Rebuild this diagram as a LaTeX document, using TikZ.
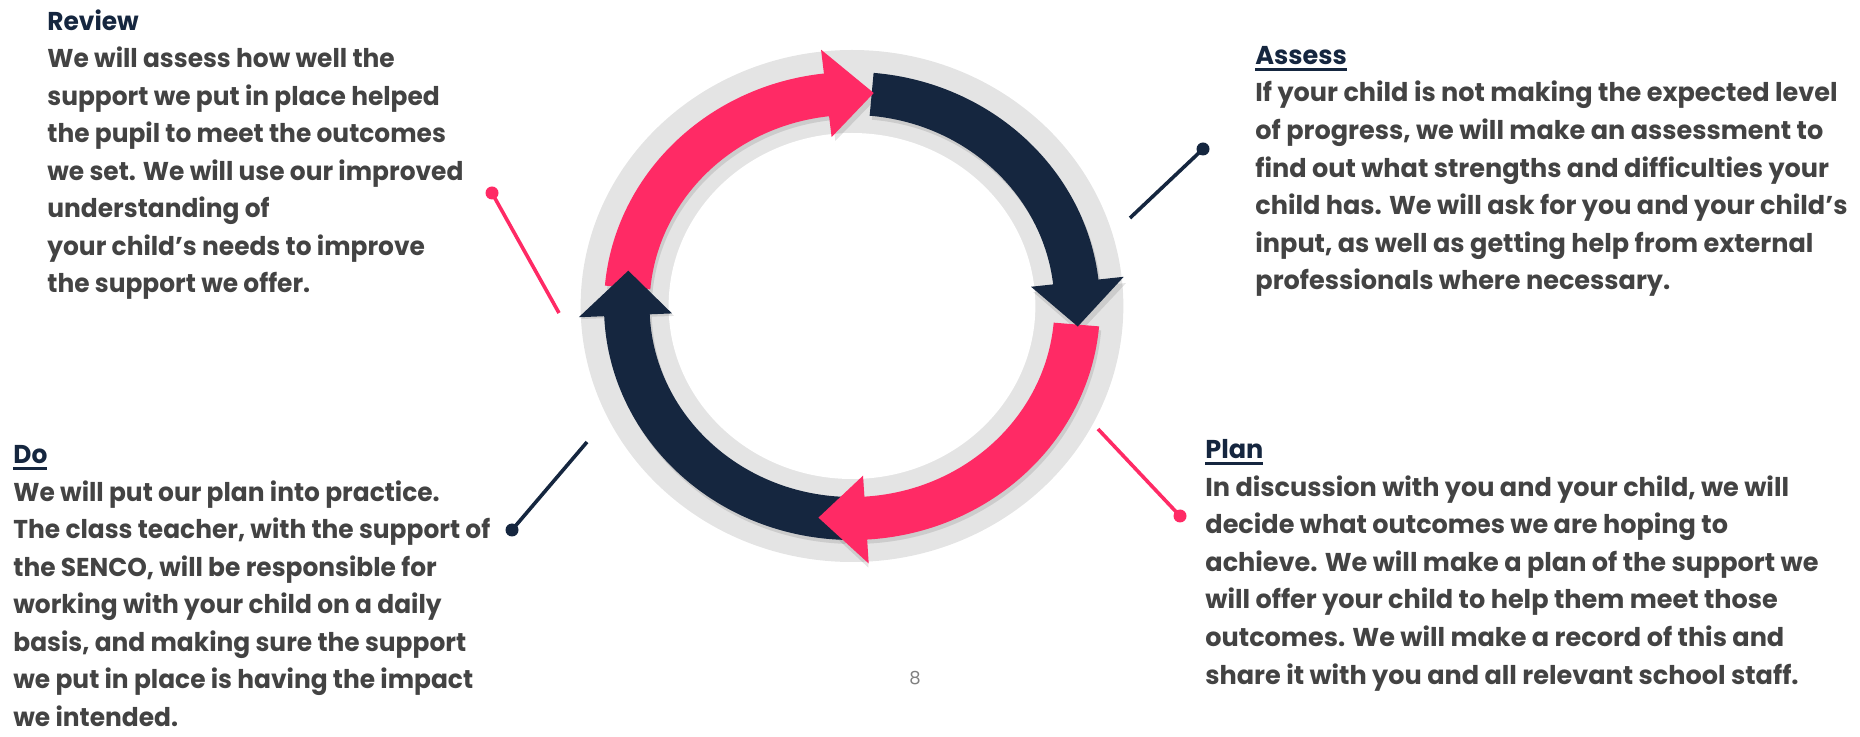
\documentclass[tikz,border=0pt]{standalone}
\usepackage{fontspec}
\setmainfont{Poppins}
\newfontfamily\widefont[FakeStretch=0.965]{Poppins}
\newfontfamily\narrowfont[FakeStretch=0.99]{Poppins}

\definecolor{cyclepink}{HTML}{FF2A65}
\definecolor{cyclenavy}{HTML}{15263F}
\definecolor{ringgray}{HTML}{E4E4E4}
\definecolor{blurbgray}{HTML}{434343}

% underlined step title
\newcommand{\ulhead}[1]{\setbox0=\hbox{#1}\rlap{\rule[-3.2pt]{\wd0}{1.4pt}}\box0}

\tikzset{
  blurb/.style={anchor=base west, inner sep=0pt, align=left, text=blurbgray},
  leftblurb/.style={blurb, font=\widefont\bfseries\fontsize{12.9}{18.75}\selectfont},
  rightblurb/.style={blurb, font=\narrowfont\bfseries\fontsize{12.9}{18.8}\selectfont},
  pinkdot/.style={circle, fill=cyclepink, inner sep=0pt, minimum size=6.5pt},
  navydot/.style={circle, fill=cyclenavy, inner sep=0pt, minimum size=6.5pt},
  pinkline/.style={draw=cyclepink, line width=1.8pt},
  navyline/.style={draw=cyclenavy, line width=1.8pt},
}

\begin{document}
\begin{tikzpicture}[x=0.5pt,y=-0.5pt]
  \useasboundingbox (0,0) rectangle (1860,737);

  % Ring
  \begin{scope}[shift={(852,306)}, xscale=1.06, yscale=-1]
    \fill[ringgray] (0,0) circle[radius=256];
    \fill[white] (0,0) circle[radius=173];
    % shadows
    \foreach \a/\b in {175/96, 85/6, -5/-87, 268/182} {
      \fill[black, opacity=0.10, shift={(2,-4)}]
        (\a:234) arc[start angle=\a, end angle=\b, radius=234]
        -- (\b:258) -- (\b-12:214) -- (\b:170)
        -- (\b:191) arc[start angle=\b, end angle=\a, radius=191] -- cycle;
    }
    % Bodies
    \foreach \a/\b/\c in {175/96/cyclepink, 85/6/cyclenavy, -5/-87/cyclepink, 268/182/cyclenavy} {
      \fill[\c] (\a:234) arc[start angle=\a, end angle=\b, radius=234]
        -- (\b:191) arc[start angle=\b, end angle=\a, radius=191] -- cycle;
    }
    % Heads
    \foreach \b/\c in {96/cyclepink, 6/cyclenavy, -87/cyclepink, 182/cyclenavy} {
      \fill[\c] (\b+0.5:258) -- (\b-11.5:214) -- (\b+0.5:170) -- cycle;
    }
  \end{scope}

  % Pointers
  \node[pinkdot] (revdot) at (492,193) {};
  \coordinate (revend) at (559,313);
  \draw[pinkline] (revdot.center) -- (revend);
  \node[navydot] (assdot) at (1203,149) {};
  \coordinate (assend) at (1130,218);
  \draw[navyline] (assdot.center) -- (assend);
  \node[pinkdot] (plandot) at (1180,516) {};
  \coordinate (planend) at (1098,429);
  \draw[pinkline] (plandot.center) -- (planend);
  \node[navydot] (dodot) at (512,530) {};
  \coordinate (doend) at (587,442);
  \draw[navyline] (dodot.center) -- (doend);

  % Texts (placed by the baseline of their last line)
  \node[leftblurb] (review) at (47,293) {\textcolor{cyclenavy}{Review}\\
    We will assess how well the\\
    support we put in place helped\\
    the pupil to meet the outcomes\\
    we set. We will use our improved\\
    understanding of\\
    your child’s needs to improve\\
    the support we offer.};
  \node[rightblurb] (assess) at (1255,290) {\textcolor{cyclenavy}{\ulhead{Assess}}\\
    If your child is not making the expected level\\
    of progress, we will make an assessment to\\
    find out what strengths and difficulties your\\
    child has. We will ask for you and your child’s\\
    input, as well as getting help from external\\
    professionals where necessary.};
  \node[rightblurb] (plan) at (1205,684) {\textcolor{cyclenavy}{\ulhead{Plan}}\\
    In discussion with you and your child, we will\\
    decide what outcomes we are hoping to\\
    achieve. We will make a plan of the support we\\
    will offer your child to help them meet those\\
    outcomes. We will make a record of this and\\
    share it with you and all relevant school staff.};
  \node[leftblurb] (do) at (13,726) {\textcolor{cyclenavy}{\ulhead{Do}}\\
    We will put our plan into practice.\\
    The class teacher, with the support of\\
    the SENCO, will be responsible for\\
    working with your child on a daily\\
    basis, and making sure the support\\
    we put in place is having the impact\\
    we intended.};

  % Page number
  \node[anchor=base, inner sep=0pt, text=gray, font=\fontsize{9}{10}\selectfont] (pageno) at (915,684) {8};
\end{tikzpicture}
\end{document}
